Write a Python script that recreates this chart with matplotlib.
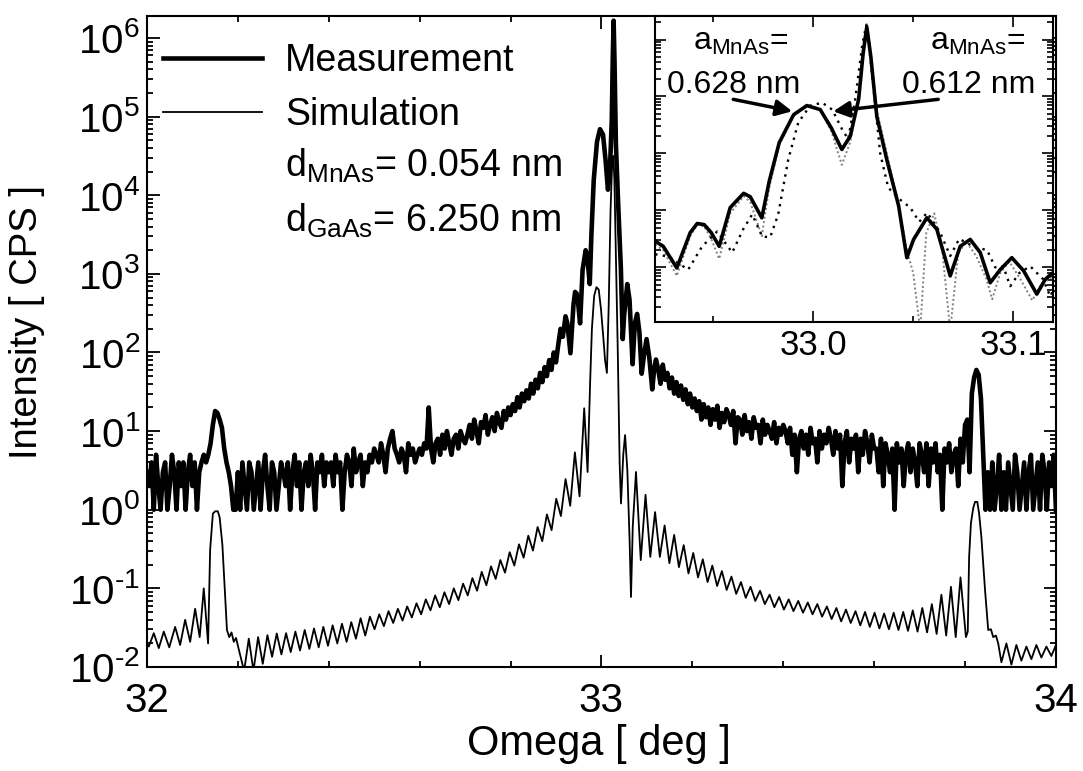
import numpy as np
import matplotlib
matplotlib.use("Agg")
import matplotlib.pyplot as plt
from matplotlib import font_manager
from matplotlib.ticker import LogLocator, MultipleLocator, FixedLocator, NullFormatter

# ---------------- measurement [CPS] ----------------
# wide scan 32.000 .. 32.900 deg, step 0.005
meas_left = [
    3, 2, 4, 1, 5, 2, 1, 3, 4, 1, 2, 5, 3, 1, 4, 2, 4, 1, 3, 5, 2, 4, 1, 3, 4, 5,
    4, 5, 7, 12, 18, 17, 14, 11, 6, 4, 3, 2, 1,
    1, 3, 1, 4, 2, 1, 4, 3, 1, 2, 4, 1, 3, 5, 2, 1, 4, 3, 1, 2, 4, 3,
    2, 4, 1, 3, 5, 2, 4, 1, 3, 4, 2, 5, 3, 1, 4, 3, 5, 2, 4, 3,
    4, 2, 5, 3, 4, 1, 3, 5, 4, 2, 6, 3, 4, 5, 2, 4, 3, 5, 4, 6,
    5, 4, 7, 5, 3, 6, 8, 10, 6, 5, 4, 6, 5, 3, 7, 5, 6, 4, 5, 6,
    5, 7, 6, 20, 6, 4, 7, 8, 5, 9, 6, 10, 7, 5, 8, 9, 6, 10, 8, 7,
    9, 12, 8, 14, 10, 7, 13, 11, 16, 9, 12, 15, 10, 17, 13, 11, 18, 14, 20, 16,
    22, 18, 27, 20, 30, 24, 33, 26, 40, 30, 45, 35, 55, 42, 65, 50, 80, 60, 100, 75,
]
# around the GaAs / MnAs peaks (log10 of CPS)
meas_mid_x = [32.905, 32.910, 32.915, 32.921, 32.925, 32.9318, 32.9385, 32.942,
              32.9455, 32.949, 32.953, 32.9585, 32.9652, 32.9685, 32.9743, 32.978,
              32.983, 32.9902, 32.9968, 33.0035, 33.009, 33.0143, 33.0185, 33.0227,
              33.025, 33.0268, 33.0288, 33.0318, 33.0368, 33.0427, 33.0468, 33.0502,
              33.0568, 33.0618, 33.0685, 33.0735, 33.0785, 33.0835, 33.0885, 33.0935,
              33.0993, 33.1052, 33.1118, 33.116, 33.120]
meas_mid_log = [2.10, 2.30, 2.20, 2.46, 2.37, 1.99, 2.61, 2.77,
                2.75, 2.61, 2.37, 3.05, 3.30, 3.24, 2.87, 3.51,
                4.19, 4.68, 4.84, 4.77, 4.45, 4.07, 4.30, 4.95,
                5.77, 6.22, 5.70, 4.65, 3.89, 3.08, 2.17, 2.49,
                2.87, 2.67, 1.85, 2.37, 2.49, 2.26, 1.73, 1.96,
                2.17, 1.94, 1.53, 1.79, 1.91]
# wide scan 33.125 .. 34.000 deg, step 0.005
meas_right = [
    60, 40, 70, 45, 55, 35, 48, 30, 42, 28, 38, 25, 34, 22, 30, 20,
    26, 18, 24, 14, 22, 15, 20, 12, 19, 14, 21, 11, 17, 13, 19, 16, 12, 18, 7, 15,
    14, 9, 16, 10, 13, 8, 15, 11, 12, 7, 14, 9, 12, 10, 8, 13, 7, 11, 9, 12,
    10, 7, 11, 5, 9, 3, 8, 10, 6, 9, 5, 11, 7, 8, 4, 10, 6, 9, 7, 11,
    8, 5, 10, 6, 9, 2, 7, 10, 4, 8, 6, 9, 3, 8, 5, 10, 7, 4, 9, 6,
    6, 3, 8, 2, 7, 5, 3, 6, 1, 7, 4, 6, 2, 5, 7, 3, 6, 4, 2, 7,
    5, 3, 7, 2, 6, 4, 7, 3, 5, 1, 6, 4, 7, 3, 5, 6, 2, 8, 4, 12,
    14, 3, 30, 48, 60, 52, 26, 5, 1,
    3, 1, 4, 1, 2, 5, 1, 3, 1, 4, 2, 1, 5, 3, 1, 2, 4, 1, 3, 5, 1, 2, 4, 1, 5, 3, 1, 4, 2, 5, 1,
]

# ---------------- simulation (log10 CPS) ----------------
sim_a_x = [32.000, 32.004, 32.015, 32.026, 32.037, 32.049, 32.062, 32.073, 32.084, 32.095,
           32.106, 32.116, 32.125, 32.1345, 32.139, 32.145, 32.150, 32.156, 32.160, 32.166,
           32.170, 32.176, 32.181, 32.186, 32.191, 32.196, 32.203]
sim_a_log = [-1.70, -1.74, -1.57, -1.76, -1.55, -1.75, -1.49, -1.72, -1.40, -1.68,
             -1.26, -1.62, -1.00, -1.70, -0.51, -0.05, -0.02, -0.02, -0.10, -0.45,
             -0.89, -1.53, -1.62, -1.56, -1.68, -1.63, -1.80]
# thickness fringes left of the layer peak, first trough at 32.2138, half period 0.01025
sim_b_start, sim_b_step = 32.2138, 0.01025
sim_b_troughs = [-2.05, -2.05, -1.96, -1.87, -1.84, -1.81, -1.79, -1.77, -1.75, -1.73,
                 -1.70, -1.68, -1.64, -1.60, -1.52, -1.48, -1.44, -1.41, -1.37, -1.33,
                 -1.28, -1.24, -1.20, -1.15, -1.09, -1.03, -0.96, -0.88, -0.80, -0.71,
                 -0.61, -0.52, -0.40, -0.26, -0.08, 0.05, 0.17]
sim_b_peaks = [-1.64, -1.62, -1.595, -1.574, -1.57, -1.55, -1.53, -1.51, -1.49, -1.47,
               -1.45, -1.43, -1.38, -1.36, -1.33, -1.29, -1.26, -1.23, -1.19, -1.14,
               -1.09, -1.05, -1.00, -0.94, -0.87, -0.79, -0.72, -0.64, -0.54, -0.44,
               -0.33, -0.22, -0.06, 0.14, 0.39, 0.73, 1.29]
sim_c_x = [32.9695, 32.975, 32.979, 32.984, 32.989, 32.994, 32.999, 33.004, 33.008, 33.012,
           33.016, 33.020, 33.0235, 33.026, 33.0285, 33.032, 33.036, 33.040, 33.043, 33.048,
           33.052, 33.057, 33.062, 33.065, 33.069]
sim_c_log = [0.48, 1.60, 2.30, 2.72, 2.83, 2.80, 2.55, 2.20, 1.90, 1.74,
             2.60, 3.80, 4.40, 4.50, 4.20, 3.20, 2.00, 0.60, 0.08, 0.70,
             0.95, 0.50, -0.40, -1.11, -0.20]
# fringes right of the substrate peak, first maximum at 33.076, half period 0.0105
sim_d_start, sim_d_step = 33.076, 0.0105
sim_d_peaks = [0.48, 0.19, -0.03, -0.20, -0.32, -0.45, -0.55, -0.63, -0.71, -0.78,
               -0.85, -0.92, -0.98, -1.03, -1.08, -1.11, -1.14, -1.16, -1.18, -1.20,
               -1.23, -1.25, -1.27, -1.29, -1.30, -1.31, -1.32, -1.31, -1.30, -1.28,
               -1.25, -1.20, -1.08, -0.98, -0.86]
sim_d_troughs = [-0.64, -0.60, -0.60, -0.68, -0.73, -0.81, -0.86, -0.92, -0.97, -1.02,
                 -1.07, -1.12, -1.16, -1.20, -1.24, -1.27, -1.29, -1.31, -1.33, -1.36,
                 -1.39, -1.42, -1.44, -1.47, -1.49, -1.51, -1.52, -1.53, -1.54, -1.55,
                 -1.56, -1.58, -1.60, -1.62]
sim_e_x = [33.802, 33.806, 33.809, 33.813, 33.818, 33.822, 33.827, 33.831, 33.836, 33.844,
           33.851, 33.857, 33.862, 33.868, 33.873, 33.880, 33.891, 33.902, 33.913, 33.924,
           33.935, 33.946, 33.957, 33.968, 33.979, 33.990, 34.000]
sim_e_log = [-1.62, -1.55, -0.60, -0.17, 0.02, 0.10, 0.10, -0.05, -0.35, -1.02,
             -1.53, -1.52, -1.62, -1.60, -1.70, -1.94, -1.70, -1.97, -1.72, -1.92,
             -1.74, -1.90, -1.72, -1.88, -1.74, -1.86, -1.72]

# ---------------- inset simulations (log10 CPS) ----------------
sim628_x = [32.921, 32.925, 32.9318, 32.9385, 32.942, 32.9455, 32.949, 32.953, 32.9585, 32.9652,
            32.9685, 32.9743, 32.978, 32.983, 32.9902, 32.9968, 33.0035, 33.009, 33.0143, 33.0185,
            33.0227, 33.025, 33.0268, 33.0288, 33.0318, 33.0368, 33.0427, 33.0468, 33.050, 33.0535,
            33.0565, 33.0605, 33.0645, 33.0685, 33.0725, 33.0765, 33.0815, 33.0865, 33.0895, 33.0935,
            33.098, 33.1035, 33.1095, 33.114, 33.120]
sim628_log = [2.40, 2.30, 1.85, 2.55, 2.75, 2.72, 2.50, 2.15, 2.95, 3.25,
              3.15, 2.55, 3.40, 4.15, 4.66, 4.84, 4.76, 4.40, 3.80, 4.20,
              5.00, 5.90, 6.30, 5.75, 4.75, 4.00, 3.10, 2.30, 1.90, 0.90,
              2.60, 2.95, 2.30, 0.90, 2.25, 2.45, 2.20, 1.80, 1.44, 1.90,
              2.10, 1.80, 1.42, 1.70, 1.85]
sim612_x = [32.921, 32.9275, 32.9375, 32.9445, 32.952, 32.9595, 32.965, 32.9695, 32.9745, 32.9785,
            32.9825, 32.9875, 32.9925, 32.9985, 33.0045, 33.0095, 33.0145, 33.0175, 33.021, 33.0245,
            33.0265, 33.0285, 33.0335, 33.0375, 33.043, 33.0485, 33.053, 33.057, 33.0635, 33.0685,
            33.073, 33.080, 33.087, 33.091, 33.095, 33.0985, 33.103, 33.1085, 33.115, 33.1185,
            33.120]
sim612_log = [2.23, 2.19, 1.96, 2.37, 2.63, 2.26, 2.67, 2.93, 2.54, 2.53,
              2.93, 3.89, 4.54, 4.84, 4.89, 4.77, 4.42, 4.25, 4.95, 5.90,
              6.25, 5.70, 4.00, 3.40, 3.20, 3.05, 2.80, 2.96, 2.61, 2.20,
              2.50, 2.37, 2.30, 2.00, 2.02, 1.67, 1.90, 2.02, 1.79, 1.49,
              1.60]

# ---------------- assemble ----------------
meas_x = np.concatenate([32.0 + 0.005 * np.arange(len(meas_left)),
                         meas_mid_x,
                         33.125 + 0.005 * np.arange(len(meas_right))])
meas_y = np.concatenate([meas_left, 10.0 ** np.array(meas_mid_log), meas_right]).astype(float)

b_log = np.empty(len(sim_b_troughs) + len(sim_b_peaks))
b_log[0::2] = sim_b_troughs
b_log[1::2] = sim_b_peaks
b_x = sim_b_start + sim_b_step * np.arange(len(b_log))
d_log = np.empty(len(sim_d_peaks) + len(sim_d_troughs))
d_log[0::2] = sim_d_peaks
d_log[1::2] = sim_d_troughs
d_x = sim_d_start + sim_d_step * np.arange(len(d_log))
sim_x = np.concatenate([sim_a_x, b_x, sim_c_x, d_x, sim_e_x])
sim_y = 10.0 ** np.concatenate([sim_a_log, b_log, sim_c_log, d_log, sim_e_log])

# ---------------- fonts ----------------
names = {f.name for f in font_manager.fontManager.ttflist}
if 'Liberation Sans Narrow' in names:
    tick_family, tick_size, inset_tick_size = 'Liberation Sans Narrow', 32, 30
else:
    tick_family, tick_size, inset_tick_size = 'Liberation Sans', 29, 25
plt.rcParams['font.family'] = ['Liberation Sans', 'DejaVu Sans']
plt.rcParams['mathtext.fontset'] = 'custom'
plt.rcParams['mathtext.rm'] = 'Liberation Sans'
plt.rcParams['mathtext.it'] = 'Liberation Sans:italic'
plt.rcParams['mathtext.bf'] = 'Liberation Sans:bold'
plt.rcParams['axes.unicode_minus'] = False


def decade(v, pos):
    n = int(round(np.log10(v)))
    return r'$\mathdefault{10^{%s}}$' % ('\u2010%d' % -n if n < 0 else '%d' % n)


fig = plt.figure(figsize=(10.83, 7.71), dpi=100)
ax = fig.add_axes([0.1357, 0.1349, 0.8393, 0.8443])

ax.plot(sim_x, sim_y, color='black', lw=1.3, label='Simulation', zorder=2)
ax.plot(meas_x, meas_y, color='black', lw=3.3, label='Measurement', zorder=3)

ax.set_yscale('log')
ax.set_xlim(32, 34)
ax.set_ylim(1e-2, 1.9e6)
ax.xaxis.set_major_locator(FixedLocator([32, 33, 34]))
ax.xaxis.set_minor_locator(MultipleLocator(0.2))
ax.yaxis.set_major_locator(LogLocator(base=10, numticks=20))
ax.yaxis.set_minor_locator(LogLocator(base=10, subs=np.arange(2, 10), numticks=20))
ax.yaxis.set_minor_formatter(NullFormatter())
ax.yaxis.set_major_formatter(plt.FuncFormatter(decade))
ax.xaxis.set_major_formatter(plt.FuncFormatter(lambda v, p: '%d' % round(v)))
ax.tick_params(which='both', direction='in', top=True, right=True, width=1.3)
ax.tick_params(which='major', length=9, labelsize=tick_size, pad=5,
               labelfontfamily=tick_family)
ax.tick_params(axis='x', which='major', pad=11)
ax.tick_params(which='minor', length=4.5)
for s in ax.spines.values():
    s.set_linewidth(1.5)

ax.set_xlabel('Omega [ deg ]', fontsize=30)
ax.set_ylabel('Intensity [ CPS ]', fontsize=27.5)
ax.xaxis.set_label_coords(0.497, -0.088)
ax.yaxis.set_label_coords(-0.112, 0.53)

h, l = ax.get_legend_handles_labels()
ax.legend([h[1], h[0]], [l[1], l[0]], loc='upper left', bbox_to_anchor=(0.0176, 0.959),
          frameon=False, fontsize=27, handlelength=2.65, handletextpad=0.6,
          labelspacing=0.48, borderpad=0, borderaxespad=0)

ax.text(0.152, 0.7527, r'd$_{\mathrm{MnAs}}$= 0.054 nm', transform=ax.transAxes,
        fontsize=27, va='baseline', ha='left')
ax.text(0.152, 0.668, r'd$_{\mathrm{GaAs}}$= 6.250 nm', transform=ax.transAxes,
        fontsize=27, va='baseline', ha='left')

# ---------------- inset ----------------
axin = fig.add_axes([0.605, 0.5824, 0.3675, 0.397])
axin.set_facecolor('white')
axin.plot(sim628_x, 10.0 ** np.array(sim628_log), color='0.5', lw=1.4,
          linestyle=(0, (1, 1.3)))
axin.plot(sim612_x, 10.0 ** np.array(sim612_log), color='black', lw=1.7,
          linestyle=(0, (1, 2.2)))
axin.plot(meas_x, meas_y, color='black', lw=2.6)
axin.set_yscale('log')
axin.set_xlim(32.921, 33.12)
axin.set_ylim(11, 2.6e6)
axin.xaxis.set_major_locator(FixedLocator([33.0, 33.1]))
axin.xaxis.set_minor_locator(MultipleLocator(0.05))
axin.xaxis.set_major_formatter(plt.FuncFormatter(lambda v, p: '%.1f' % v))
axin.yaxis.set_major_locator(LogLocator(base=10, numticks=20))
axin.yaxis.set_minor_locator(LogLocator(base=10, subs=np.arange(2, 10), numticks=20))
axin.yaxis.set_major_formatter(NullFormatter())
axin.yaxis.set_minor_formatter(NullFormatter())
axin.tick_params(which='both', direction='in', top=True, right=True, width=1.2)
axin.tick_params(which='major', length=8, labelsize=inset_tick_size, pad=5,
                 labelfontfamily=tick_family)
axin.tick_params(which='minor', length=4)
for s in axin.spines.values():
    s.set_linewidth(1.5)

axin.text(0.095, 0.889, r'a$_{\mathrm{MnAs}}$=', transform=axin.transAxes,
          fontsize=23, va='baseline', ha='left')
axin.text(0.030, 0.748, '0.628 nm', transform=axin.transAxes,
          fontsize=23, va='baseline', ha='left')
axin.text(0.691, 0.889, r'a$_{\mathrm{MnAs}}$=', transform=axin.transAxes,
          fontsize=23, va='baseline', ha='left')
axin.text(0.620, 0.748, '0.612 nm', transform=axin.transAxes,
          fontsize=23, va='baseline', ha='left')
arrow = dict(arrowstyle='-|>', color='black', lw=2.5, mutation_scale=24,
             shrinkA=0, shrinkB=0)
axin.annotate('', xy=(32.9895, 10 ** 4.74), xytext=(32.960, 10 ** 4.95), arrowprops=arrow)
axin.annotate('', xy=(33.010, 10 ** 4.74), xytext=(33.0625, 10 ** 4.95), arrowprops=arrow)

fig.savefig('out.png', dpi=100)
